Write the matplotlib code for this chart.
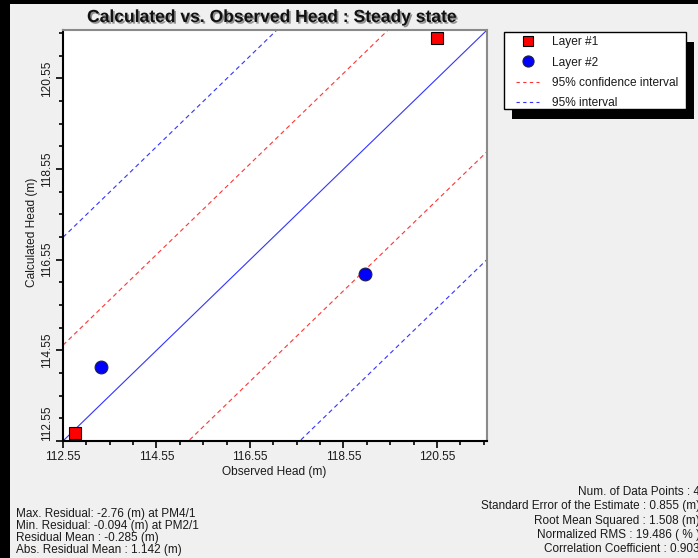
import numpy as np
import matplotlib
matplotlib.use('Agg')
import matplotlib.pyplot as plt
from matplotlib.lines import Line2D
from matplotlib.patches import Rectangle
import matplotlib.patheffects as pe

plt.rcParams['font.family'] = ['Liberation Sans', 'DejaVu Sans']

# ---------------- data ----------------
title = "Calculated vs. Observed Head : Steady state"
x_label = "Observed Head (m)"
y_label = "Calculated Head (m)"

layer1_observed = [112.81, 120.56]
layer1_calculated = [112.716, 121.45]
layer2_observed = [113.36, 119.00]
layer2_calculated = [114.19, 116.24]

residual_mean = -0.285
confidence_half_width = 2.40
interval_half_width = 4.78

axis_min, axis_max = 112.55, 121.62
major_ticks = [112.55, 114.55, 116.55, 118.55, 120.55]
tick_labels = ["112.55", "114.55", "116.55", "118.55", "120.55"]
minor_step = 0.5

legend_labels = ["Layer #1", "Layer #2", "95% confidence interval", "95% interval"]

left_stats = [
    "Max. Residual: -2.76 (m) at PM4/1",
    "Min. Residual: -0.094 (m) at PM2/1",
    "Residual Mean : -0.285 (m)",
    "Abs. Residual Mean : 1.142 (m)",
]
right_stats = [
    "Num. of Data Points : 4",
    "Standard Error of the Estimate : 0.855 (m)",
    "Root Mean Squared : 1.508 (m)",
    "Normalized RMS : 19.486 ( % )",
    "Correlation Coefficient : 0.903",
]

# ---------------- figure ----------------
W, H = 698, 558
fig = plt.figure(figsize=(W / 100, H / 100), dpi=100, facecolor='#f0f0f0')

def fx(px):
    return px / W

def fy(py):
    return 1 - py / H

TEXT = '#1a1a1a'

# window borders
fig.patches.append(Rectangle((0, 0), fx(10), 1, transform=fig.transFigure,
                             facecolor='black', edgecolor='none', zorder=0))
fig.patches.append(Rectangle((0, fy(4)), 1, 4 / H, transform=fig.transFigure,
                             facecolor='black', edgecolor='none', zorder=0))

ax = fig.add_axes([fx(63), fy(441), fx(487) - fx(63), fy(30) - fy(441)])
ax.set_facecolor('white')

xs = np.array([axis_min, axis_max])
ax.plot(xs, xs, color='#3333ff', lw=0.8, zorder=2)
for off in (residual_mean + confidence_half_width, residual_mean - confidence_half_width):
    ax.plot(xs, xs + off, color='#ff3333', lw=0.8, ls=(0, (4, 3)), zorder=2)
for off in (residual_mean + interval_half_width, residual_mean - interval_half_width):
    ax.plot(xs, xs + off, color='#3333ff', lw=0.8, ls=(0, (4, 3)), zorder=2)

ax.plot(layer1_observed, layer1_calculated, ls='none', marker='s', markersize=8.2,
        markerfacecolor='#ff0000', markeredgecolor='black', markeredgewidth=0.8,
        zorder=4, clip_on=False)
ax.plot(layer2_observed, layer2_calculated, ls='none', marker='o', markersize=9.2,
        markerfacecolor='#0000ff', markeredgecolor='#202040', markeredgewidth=0.8,
        zorder=4, clip_on=False)

ax.set_xlim(axis_min, axis_max)
ax.set_ylim(axis_min, axis_max)

minor = np.arange(axis_min, axis_max, minor_step)
for axis in (ax.xaxis, ax.yaxis):
    axis.set_ticks(major_ticks)
    axis.set_ticks(minor, minor=True)
ax.set_xticklabels(tick_labels)
ax.set_yticklabels(tick_labels, rotation=90, va='center')
ax.tick_params(which='major', length=5, width=1.2, color='black', labelsize=8.6,
               labelcolor=TEXT, direction='out')
ax.tick_params(which='minor', length=3, width=1.2, color='black', direction='out')
ax.tick_params(axis='x', which='major', pad=2.5)
ax.tick_params(axis='y', which='major', pad=2)
ax.get_yticklabels()[0].set_va('bottom')

for s in ('left', 'bottom'):
    ax.spines[s].set_color('black')
    ax.spines[s].set_linewidth(1.5)
for s in ('top', 'right'):
    ax.spines[s].set_color('#8a8a8a')
    ax.spines[s].set_linewidth(1.5)

fig.text(fx(274), fy(472), x_label, ha='center', va='center', fontsize=8.6, color=TEXT)
fig.text(fx(31.5), fy(232), y_label, ha='center', va='center', rotation=90,
         fontsize=8.6, color=TEXT)

fig.text(fx(272), fy(17.5), title, ha='center', va='center', fontsize=12.6,
         fontweight='bold', color='#111111',
         path_effects=[pe.withSimplePatchShadow(offset=(1.2, -1.2), shadow_rgbFace='#909090', alpha=1)])

# legend box with shadow
lx0, ly0, lx1, ly1 = 504, 32, 686, 109
fig.patches.append(Rectangle((fx(lx0 + 8), fy(ly1 + 10)), fx(lx1) - fx(lx0), fy(ly0) - fy(ly1),
                             transform=fig.transFigure, facecolor='black', edgecolor='none', zorder=1))
fig.patches.append(Rectangle((fx(lx0), fy(ly1)), fx(lx1) - fx(lx0), fy(ly0) - fy(ly1),
                             transform=fig.transFigure, facecolor='white', edgecolor='black',
                             linewidth=1.0, zorder=1.5))

handles = [
    Line2D([], [], ls='none', marker='s', markersize=7, markerfacecolor='#ff0000',
           markeredgecolor='black', markeredgewidth=0.8),
    Line2D([], [], ls='none', marker='o', markersize=8, markerfacecolor='#0000ff',
           markeredgecolor='#202040', markeredgewidth=0.8),
    Line2D([], [], color='#ff3333', lw=0.8, ls=(0, (3, 3))),
    Line2D([], [], color='#3333ff', lw=0.8, ls=(0, (3, 3))),
]
leg = fig.legend(handles, legend_labels, loc='upper left',
                 bbox_to_anchor=(fx(516), fy(36.5)), bbox_transform=fig.transFigure,
                 frameon=False, borderpad=0, borderaxespad=0, fontsize=8.6,
                 labelspacing=0.68, handlelength=1.93, handletextpad=1.07, labelcolor=TEXT)

# statistics text
for t, yc in zip(left_stats, [514.5, 526.5, 538, 549.5]):
    fig.text(fx(16.5), fy(yc), t, ha='left', va='center', fontsize=8.5, color=TEXT)
for t, yc in zip(right_stats, [491.7, 506.5, 520.7, 535, 548.5]):
    fig.text(fx(700), fy(yc), t, ha='right', va='center', fontsize=8.5, color=TEXT)

fig.savefig('out.png', dpi=100, facecolor=fig.get_facecolor())
